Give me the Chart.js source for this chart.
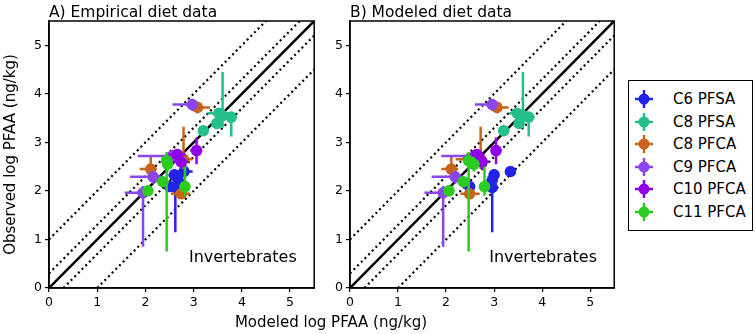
<!DOCTYPE html>
<html>
<head>
<meta charset="utf-8">
<script src="https://cdn.jsdelivr.net/npm/chart.js@4.4.1/dist/chart.umd.min.js"></script>
<style>
    body { margin:0; width:756px; height:334px; background:#fff; position:relative; overflow:hidden; font-family:"DejaVu Sans", sans-serif; }
    canvas { position:absolute; top:0; }
    #xlabel { position:absolute; left:0; width:662px; top:313px; text-align:center; font-size:15px; color:#000; }
    #legend { position:absolute; left:628px; top:80px; width:123px; height:149px; border:1.5px solid #000; box-sizing:content-box; }
    .lg-item { position:absolute; left:0; height:22px; display:flex; align-items:center; font-size:15px; color:#000; white-space:nowrap; }
    .lg-item svg { margin-left:5px; margin-right:19px; }
</style>
</head>
<body>
<canvas id="panelA" width="320" height="334" style="left:0"></canvas>
<canvas id="panelB" width="300" height="334" style="left:320px"></canvas>
<div id="xlabel">Modeled log PFAA (ng/kg)</div>
<div id="legend"></div>

<script>
// Series
const SERIES = ['C6 PFSA', 'C8 PFSA', 'C8 PFCA', 'C9 PFCA', 'C10 PFCA', 'C11 PFCA'];
const COLORS = ['#2323e6', '#26bf8c', '#c8631c', '#8a46ea', '#8f00e8', '#2ccb1f'];

// Observed (y) values and their error bounds, shared by both panels
const OBS    = [[2.40, 2.33, 2.22, 2.09, 2.07], [3.24, 3.39, 3.60, 3.55, 3.52], [3.72, 2.45, 1.94, 2.65], [3.78, 2.29, 1.96, 2.72], [2.75, 2.60, 2.83], [2.00, 2.19, 2.62, 2.55, 2.09]];
const OBS_LO = [[2.30, 2.20, 2.10, 1.98, 1.15], [3.15, 3.28, 3.50, 3.30, 3.12], [3.60, 2.30, 1.88, 2.45], [3.65, 2.15, 0.85, 2.60], [2.65, 2.45, 2.55], [1.90, 2.08, 0.75, 2.40, 1.90]];
const OBS_HI = [[2.50, 2.45, 2.35, 2.20, 2.30], [3.32, 3.50, 3.68, 4.45, 3.60], [3.82, 2.70, 2.00, 3.32], [3.90, 2.40, 2.10, 2.85], [2.85, 2.72, 3.10], [2.10, 2.30, 2.80, 2.70, 2.50]];

// A) empirical diet (x)
const EMP    = [[2.80, 2.60, 2.68, 2.50, 2.62], [3.20, 3.48, 3.52, 3.60, 3.78], [3.08, 2.11, 2.74, 2.79], [2.97, 2.16, 1.95, 2.56], [2.66, 2.74, 3.06], [2.05, 2.36, 2.44, 2.46, 2.82]];
const EMP_LO = [[2.63, 2.48, 2.58, 2.38, 2.53], [3.12, 3.39, 3.28, 3.49, 3.66], [2.93, 1.88, 2.53, 2.58], [2.56, 1.68, 1.57, 1.84], [2.48, 2.58, 2.93], [1.95, 2.23, 2.33, 2.38, 2.73]];
const EMP_HI = [[2.98, 2.73, 2.78, 2.63, 2.73], [3.28, 3.56, 3.75, 3.70, 3.87], [3.34, 2.23, 2.93, 2.98], [3.03, 2.33, 2.08, 2.68], [2.83, 2.88, 3.16], [2.15, 2.48, 2.55, 2.55, 2.91]];

// B) modeled diet (x)
const MOD    = [[3.34, 3.00, 2.96, 2.49, 2.96], [3.20, 3.52, 3.48, 3.60, 3.72], [3.06, 2.11, 2.49, 2.72], [2.96, 2.19, 1.94, 2.60], [2.64, 2.75, 3.04], [2.06, 2.36, 2.47, 2.58, 2.80]];
const MOD_LO = [[3.25, 2.90, 2.87, 2.40, 2.89], [3.12, 3.44, 3.31, 3.50, 3.62], [2.93, 1.90, 2.30, 2.20], [2.60, 1.70, 1.55, 1.90], [2.45, 2.60, 2.94], [1.96, 2.25, 2.35, 2.50, 2.71]];
const MOD_HI = [[3.42, 3.10, 3.05, 2.58, 3.03], [3.28, 3.60, 3.66, 3.70, 3.82], [3.30, 2.25, 2.70, 2.85], [3.05, 2.35, 2.09, 2.70], [2.80, 2.90, 3.14], [2.16, 2.47, 2.60, 2.67, 2.89]];

// Axes
const AXIS_MIN = 0;
const AXIS_MAX = 5.5;
const TICKS = [0, 1, 2, 3, 4, 5];
// 1:1 line plus factor-2 and factor-10 bands (log units)
const DIAG_OFFSETS = [0, 0.3, -0.3, 1, -1];

const PANEL_LABEL = 'Invertebrates';
const LABEL_AT = { x: 4.02, y: 0.62 };

const errorBars = {
    id: 'errorBars',
    beforeDatasetDraw(chart, args) {
        const ds = chart.data.datasets[args.index];
        if (!ds.xLo) return;
        const sx = chart.scales.x, sy = chart.scales.y;
        const ctx = chart.ctx;
        const a = chart.chartArea;
        ctx.save();
        ctx.beginPath();
        ctx.rect(a.left, a.top, a.right - a.left, a.bottom - a.top);
        ctx.clip();
        ctx.strokeStyle = ds.borderColor;
        ctx.lineWidth = 2.5;
        ds.data.forEach((p, i) => {
            const px = sx.getPixelForValue(p.x), py = sy.getPixelForValue(p.y);
            ctx.beginPath();
            ctx.moveTo(sx.getPixelForValue(ds.xLo[i]), py);
            ctx.lineTo(sx.getPixelForValue(ds.xHi[i]), py);
            ctx.moveTo(px, sy.getPixelForValue(ds.yLo[i]));
            ctx.lineTo(px, sy.getPixelForValue(ds.yHi[i]));
            ctx.stroke();
        });
        ctx.restore();
    }
};

const frame = {
    id: 'frame',
    afterDraw(chart, args, opts) {
        const a = chart.chartArea;
        const ctx = chart.ctx;
        ctx.save();
        ctx.strokeStyle = '#000';
        ctx.lineWidth = 1.5;
        ctx.strokeRect(a.left, a.top, a.right - a.left, a.bottom - a.top);
        ctx.fillStyle = '#000';
        ctx.font = '15.5px "DejaVu Sans"';
        ctx.textAlign = 'left';
        ctx.textBaseline = 'alphabetic';
        ctx.fillText(opts.title, a.left, a.top - 4);
        ctx.font = '16px "DejaVu Sans"';
        ctx.textAlign = 'center';
        ctx.textBaseline = 'middle';
        ctx.fillText(PANEL_LABEL, chart.scales.x.getPixelForValue(LABEL_AT.x), chart.scales.y.getPixelForValue(LABEL_AT.y));
        ctx.restore();
    }
};

function diagLines() {
    return DIAG_OFFSETS.map(d => {
        const x0 = Math.max(AXIS_MIN, AXIS_MIN - d);
        const x1 = Math.min(AXIS_MAX, AXIS_MAX - d);
        return {
            type: 'line',
            data: [{ x: x0, y: x0 + d }, { x: x1, y: x1 + d }],
            borderColor: '#000',
            borderWidth: d === 0 ? 2.5 : 2.2,
            borderDash: d === 0 ? [] : [2, 3.2],
            pointRadius: 0,
            fill: false,
            order: 20
        };
    });
}

function axisOpts(width, title) {
    return {
        type: 'linear',
        min: AXIS_MIN,
        max: AXIS_MAX,
        afterBuildTicks: s => { s.ticks = TICKS.map(v => ({ value: v })); },
        afterFit: s => { if (s.isHorizontal()) s.height = 46; else s.width = width; },
        grid: { drawOnChartArea: false, color: '#000', tickLength: 4, lineWidth: 1.2 },
        border: { color: '#000', width: 1.5 },
        ticks: { color: '#000', font: { family: 'DejaVu Sans', size: 12.5 }, padding: 3 },
        title: title ? { display: true, text: title, color: '#000', font: { family: 'DejaVu Sans', size: 15 }, padding: { top: 2, bottom: 0 } } : { display: false }
    };
}

function makePanel(id, xs, xlo, xhi, title, yWidth, yTitle, padRight) {
    const points = SERIES.map((name, i) => ({
        type: 'scatter',
        label: name,
        data: xs[i].map((x, j) => ({ x: x, y: OBS[i][j] })),
        xLo: xlo[i], xHi: xhi[i], yLo: OBS_LO[i], yHi: OBS_HI[i],
        borderColor: COLORS[i],
        backgroundColor: COLORS[i],
        pointRadius: 5.8,
        pointBorderWidth: 0,
        order: SERIES.length - i
    }));
    return new Chart(document.getElementById(id), {
        type: 'scatter',
        data: { datasets: diagLines().concat(points) },
        options: {
            responsive: false,
            animation: false,
            devicePixelRatio: 1,
            layout: { padding: { top: 21, right: padRight, left: 0, bottom: 0 } },
            plugins: { legend: { display: false }, tooltip: { enabled: false }, frame: { title: title } },
            scales: { x: axisOpts(0, null), y: axisOpts(yWidth, yTitle) }
        },
        plugins: [errorBars, frame]
    });
}

makePanel('panelA', EMP, EMP_LO, EMP_HI, 'A) Empirical diet data', 49, 'Observed log PFAA (ng/kg)', 3);
makePanel('panelB', MOD, MOD_LO, MOD_HI, 'B) Modeled diet data', 30, null, 2);

// Legend
const legend = document.getElementById('legend');
legend.innerHTML = SERIES.map((name, i) => `
    <div class="lg-item" style="top:${7 + i * 22.6}px">
        <svg width="20" height="20" viewBox="0 0 20 20">
            <line x1="1" y1="10" x2="19" y2="10" stroke="${COLORS[i]}" stroke-width="2.5"/>
            <line x1="10" y1="1" x2="10" y2="19" stroke="${COLORS[i]}" stroke-width="2.5"/>
            <circle cx="10" cy="10" r="5.5" fill="${COLORS[i]}"/>
        </svg>${name}
    </div>
`).join('');
</script>
</body>
</html>
